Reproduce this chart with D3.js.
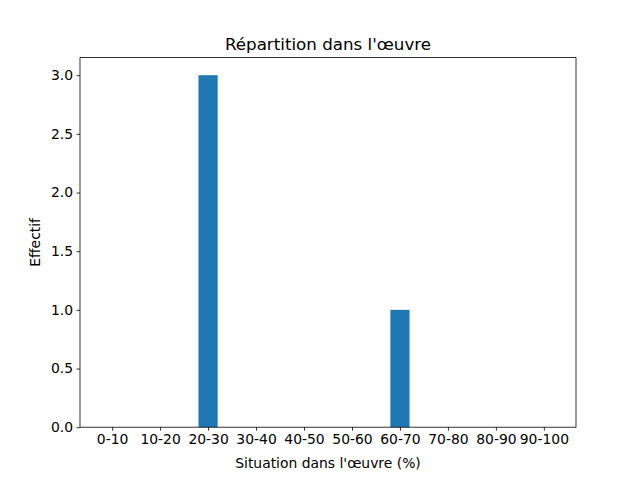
<!DOCTYPE html>
<html>
<head>
<meta charset="utf-8">
<title>Répartition dans l'œuvre</title>
<script src="https://cdn.jsdelivr.net/npm/d3@7"></script>
<style>
body { margin: 0; background: #fff; }
svg text { font-family: "DejaVu Sans", sans-serif; fill: #000; }
</style>
</head>
<body>
<script>
var categories = ["0-10","10-20","20-30","30-40","40-50","50-60","60-70","70-80","80-90","90-100"];
var counts = [0, 0, 3, 0, 0, 0, 1, 0, 0, 0];
var yTicks = [0, 0.5, 1, 1.5, 2, 2.5, 3];

var width = 640, height = 480;
var plotL = 80, plotR = 576, plotT = 57.6, plotB = 427.2;
var barW = 0.4;
var n = categories.length;
// matplotlib style 5% margins around the bars
var lo = -barW/2, hi = (n-1) + barW/2, pad = (hi-lo)*0.05;
var x = d3.scaleLinear().domain([lo-pad, hi+pad]).range([plotL, plotR]);
var yMax = d3.max(counts) * 1.05;
var y = d3.scaleLinear().domain([0, yMax]).range([plotB, plotT]);

var svg = d3.select("body").append("svg").attr("width", width).attr("height", height);

svg.selectAll(".bar")
  .data(counts)
  .enter()
  .append("rect")
  .attr("class", "bar")
  .attr("x", function(d, i) { return x(i - barW/2); })
  .attr("width", function(d, i) { return x(i + barW/2) - x(i - barW/2); })
  .attr("y", function(d) { return y(d); })
  .attr("height", function(d) { return y(0) - y(d); })
  .attr("fill", "#1f77b4");

var xAxis = svg.append("g")
  .attr("transform", "translate(0," + plotB + ")")
  .call(d3.axisBottom(x).tickValues(d3.range(n)).tickFormat(function(i) { return categories[i]; })
        .tickSizeOuter(0).tickSize(3.5).tickPadding(3.5));
var yAxis = svg.append("g")
  .attr("transform", "translate(" + plotL + ",0)")
  .call(d3.axisLeft(y).tickValues(yTicks).tickFormat(d3.format(".1f"))
        .tickSizeOuter(0).tickSize(3.5).tickPadding(3.5));

[xAxis, yAxis].forEach(function(g) {
  g.select(".domain").remove();
  g.selectAll("line").attr("stroke", "#000").attr("stroke-width", 0.8);
  g.selectAll("text").style("font-size", "13.9px").attr("font-family", "DejaVu Sans");
});

// frame
svg.append("rect")
  .attr("x", plotL).attr("y", plotT)
  .attr("width", plotR - plotL).attr("height", plotB - plotT)
  .attr("fill", "none").attr("stroke", "#000").attr("stroke-width", 0.8);

svg.append("text")
  .attr("x", (plotL + plotR)/2).attr("y", plotT - 8)
  .attr("text-anchor", "middle")
  .style("font-size", "16.7px")
  .text("Répartition dans l'œuvre");

svg.append("text")
  .attr("x", (plotL + plotR)/2).attr("y", 468)
  .attr("text-anchor", "middle")
  .style("font-size", "13.9px")
  .text("Situation dans l'œuvre (%)");

svg.append("text")
  .attr("transform", "translate(40," + ((plotT + plotB)/2) + ") rotate(-90)")
  .attr("text-anchor", "middle")
  .style("font-size", "13.9px")
  .text("Effectif");
</script>
</body>
</html>
